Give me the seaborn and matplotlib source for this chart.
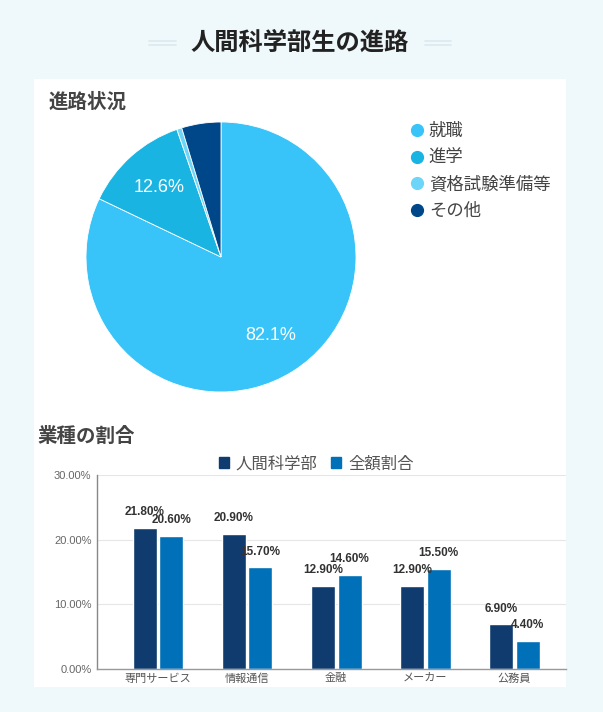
import matplotlib
matplotlib.use("Agg")
import matplotlib.pyplot as plt
import seaborn as sns
import pandas as pd
from matplotlib.patches import Rectangle, Patch
from matplotlib.lines import Line2D

# ---- data ----
pie_labels = ["就職", "進学", "資格試験準備等", "その他"]
pie_values = [82.1, 12.6, 0.6, 4.7]
pie_colors = ["#38c4f8", "#1ab4e3", "#6dd6f8", "#00478a"]

industries = ["専門サービス", "情報通信", "金融", "メーカー", "公務員"]
series_names = ["人間科学部", "全額割合"]
faculty_values = [21.8, 20.9, 12.9, 12.9, 6.9]
overall_values = [20.6, 15.7, 14.6, 15.5, 4.4]
bar_colors = ["#0f3b6e", "#0070b9"]
y_ticks = [0, 10, 20, 30]

sns.set_theme(style="white")
plt.rcParams['font.family'] = ['Noto Sans CJK JP', 'DejaVu Sans']

W, H = 603, 712
fig = plt.figure(figsize=(W / 100, H / 100), dpi=100)
fig.patch.set_facecolor("#eff8fb")

def fx(x):
    return x / W

def fy(y):
    return 1 - y / H

# white panel
fig.patches.append(Rectangle((fx(34), fy(687)), fx(566) - fx(34), fy(79) - fy(687),
                             transform=fig.transFigure, facecolor="white",
                             edgecolor="none", zorder=-10))

# main title with decorative lines
fig.text(fx(300), fy(44), "人間科学部生の進路", ha="center", va="center",
         fontsize=17.5, fontweight="bold", color="#222222")
for x0, x1 in [(149, 176), (425, 451)]:
    for yy in (40.5, 45):
        fig.add_artist(Line2D([fx(x0), fx(x1)], [fy(yy), fy(yy)], transform=fig.transFigure,
                              color="#dbe9ee", linewidth=1.2))

# ---- pie ----
cx, cy, r = 221, 257, 135
ax_pie = fig.add_axes([fx(cx - r), fy(cy + r), fx(2 * r), (2 * r) / H])
def fmt(p):
    return f"{p:.1f}%" if p > 10 else ""
wedges, texts, autotexts = ax_pie.pie(
    pie_values, colors=pie_colors, startangle=90, counterclock=False,
    autopct=fmt, pctdistance=0.69,
    wedgeprops=dict(edgecolor="white", linewidth=0.6),
    textprops=dict(color="white", fontsize=13, family=["Liberation Sans", "DejaVu Sans"]))
ax_pie.set_xlim(-1, 1)
ax_pie.set_ylim(-1, 1)
ax_pie.set_aspect("equal")
ax_pie.axis("off")

fig.text(fx(49), fy(102), "進路状況", ha="left", va="center",
         fontsize=14, fontweight="bold", color="#444444")

pie_handles = [Line2D([0], [0], marker="o", linestyle="none", markersize=8.5,
                      markerfacecolor=c, markeredgecolor=c) for c in pie_colors]
fig.legend(pie_handles, pie_labels, loc="upper left",
           bbox_to_anchor=(fx(408), fy(122)), frameon=False, fontsize=12.5,
           labelcolor="#444444", handletextpad=0.2, labelspacing=0.5,
           borderaxespad=0, borderpad=0, handlelength=1.0)

# ---- bars ----
fig.text(fx(37), fy(436), "業種の割合", ha="left", va="center",
         fontsize=14, fontweight="bold", color="#444444")

df = pd.DataFrame({
    "業種": industries * 2,
    "系列": [series_names[0]] * len(industries) + [series_names[1]] * len(industries),
    "値": faculty_values + overall_values,
})

ax = fig.add_axes([fx(97), fy(669), fx(566) - fx(97), (669 - 475) / H])
sns.barplot(data=df, x="業種", y="値", hue="系列", palette=bar_colors,
            width=0.6, gap=0.1, ax=ax, legend=False, saturation=1)
ax.set_xlim(-0.685, 4.58)
ax.set_ylim(0, 30)
ax.set_yticks(y_ticks)
ax.set_yticklabels([f"{v:.2f}%" for v in y_ticks])
ax.set_xlabel("")
ax.set_ylabel("")
ax.grid(axis="y", color="#e6e6e6", linewidth=0.8)
ax.set_axisbelow(True)
for s in ["top", "right"]:
    ax.spines[s].set_visible(False)
ax.spines["left"].set_color("#888888")
ax.spines["bottom"].set_color("#999999")
ax.spines["left"].set_linewidth(1.0)
ax.spines["bottom"].set_linewidth(1.0)
ax.tick_params(axis="y", labelsize=8, colors="#666666", length=0, pad=4)
ax.tick_params(axis="x", labelsize=8, colors="#555555", length=0, pad=3)
for lab in ax.get_yticklabels():
    lab.set_family(["Liberation Sans", "DejaVu Sans"])

for cont in ax.containers:
    for bar in cont:
        h = bar.get_height()
        ax.annotate(f"{h:.2f}%", (bar.get_x() + bar.get_width() / 2, h),
                    xytext=(0, 7), textcoords="offset points", ha="center",
                    va="bottom", fontsize=8.5, fontweight="bold", color="#333333",
                    family=["Liberation Sans", "DejaVu Sans"])

bar_handles = [Patch(facecolor=c, edgecolor=c) for c in bar_colors]
fig.legend(bar_handles, series_names, loc="center", ncol=2,
           bbox_to_anchor=(fx(316), fy(464)), frameon=False, fontsize=11.8,
           labelcolor="#555555", handlelength=0.65, handleheight=0.65,
           handletextpad=0.4, columnspacing=0.8, borderaxespad=0, borderpad=0)

fig.savefig("out.png", dpi=100, facecolor=fig.get_facecolor())
